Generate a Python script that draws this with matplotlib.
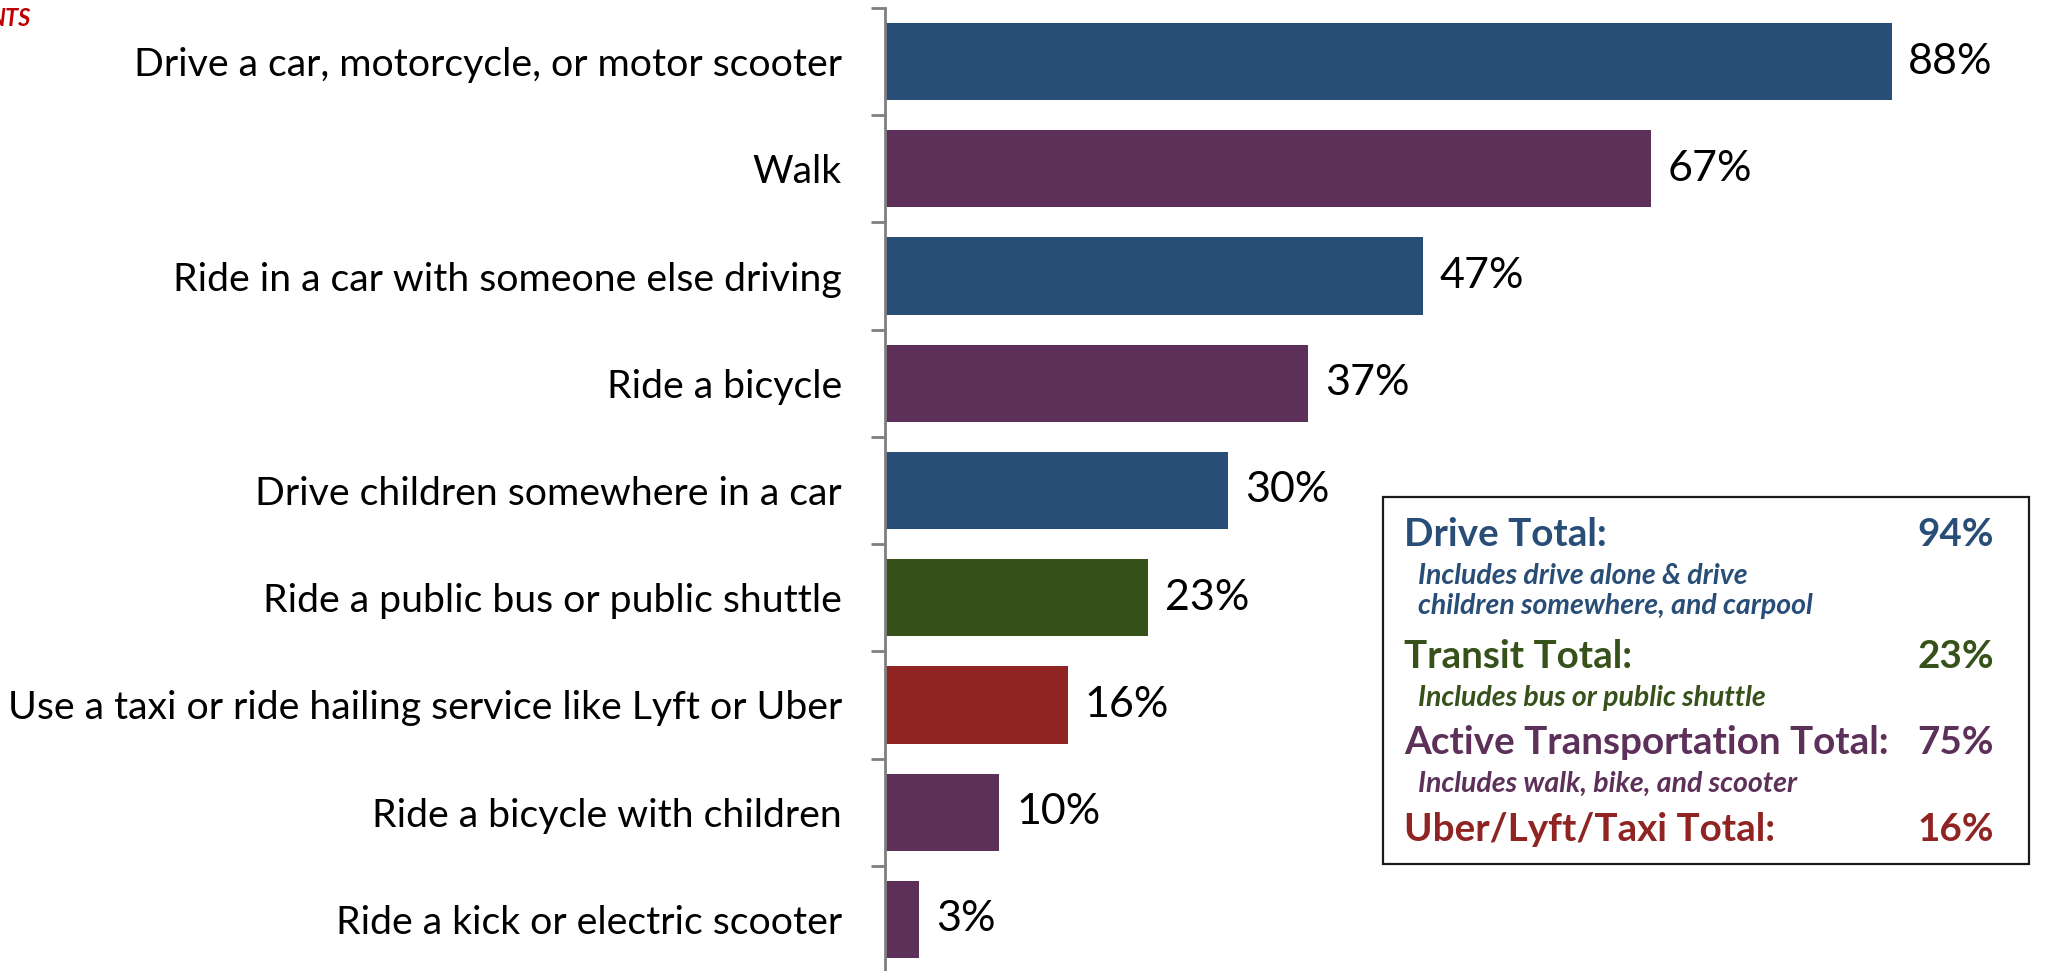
import matplotlib.pyplot as plt
from matplotlib.patches import Rectangle

# data
labels = ['Drive a car, motorcycle, or motor scooter',
          'Walk',
          'Ride in a car with someone else driving',
          'Ride a bicycle',
          'Drive children somewhere in a car',
          'Ride a public bus or public shuttle',
          'Use a taxi or ride hailing service like Lyft or Uber',
          'Ride a bicycle with children',
          'Ride a kick or electric scooter']
values = [88, 67, 47, 37, 30, 23, 16, 10, 3]
groups = ['drive', 'active', 'drive', 'active', 'drive', 'transit', 'taxi', 'active', 'active']

totals_names = ['Drive Total:', 'Transit Total:', 'Active Transportation Total:', 'Uber/Lyft/Taxi Total:']
totals_values = [94, 23, 75, 16]
totals_groups = ['drive', 'transit', 'active', 'taxi']
totals_notes = ['Includes drive alone & drive\nchildren somewhere, and carpool',
                'Includes bus or public shuttle',
                'Includes walk, bike, and scooter',
                '']

colors = {'drive': '#284E77', 'active': '#5C3059', 'transit': '#36511A', 'taxi': '#8F2423'}

plt.rcParams['font.family'] = ['Lato', 'DejaVu Sans']

W, H = 2046, 971
fig = plt.figure(figsize=(W/100, H/100), dpi=100)

def fx(px):
    return px / W

def fy(py):
    return 1 - py / H

# axes: left edge at x=885px, rows span y=8..973px
ax = fig.add_axes([fx(885), fy(973), 1 - fx(885), (973 - 8) / H])
ypos = list(range(len(labels)))
ax.barh(ypos, values, height=0.72, color=[colors[g] for g in groups])
ax.set_xlim(0, 101.5)
ax.set_ylim(len(labels) - 0.5, -0.5)

for y, v in zip(ypos, values):
    ax.annotate('%d%%' % v, (v, y), xytext=(12, 0), textcoords='offset points',
                va='center', ha='left', fontsize=31, color='black')

for s in ['top', 'right', 'bottom']:
    ax.spines[s].set_visible(False)
ax.spines['left'].set_color('#7F7F7F')
ax.spines['left'].set_linewidth(2)
ax.set_xticks([])
ax.set_yticks(ypos)
ax.set_yticklabels(labels, fontsize=28.3)
ax.tick_params(axis='y', which='major', length=0, pad=31)
ax.set_yticks([i - 0.5 for i in range(len(labels) + 1)], minor=True)
ax.tick_params(axis='y', which='minor', length=10, width=2, color='#7F7F7F')

# summary box
fig.patches.append(Rectangle((fx(1383), fy(864)), fx(2029) - fx(1383), fy(497) - fy(864),
                             transform=fig.transFigure, fill=False, edgecolor='#1A1A1A',
                             linewidth=1.6))
head_y = [535, 656, 742, 829]
note_y = [591, 698, 784, None]
for name, val, g, note, hy, ny in zip(totals_names, totals_values, totals_groups,
                                      totals_notes, head_y, note_y):
    c = colors[g]
    fig.text(fx(1404), fy(hy), name, fontsize=27.8, fontweight='bold', color=c,
             ha='left', va='center')
    fig.text(fx(1994), fy(hy), '%d%%' % val, fontsize=27.8, fontweight='bold', color=c,
             ha='right', va='center')
    if note:
        fig.text(fx(1418), fy(ny), note, fontsize=20.5, fontweight='bold', style='italic',
                 color=c, ha='left', va='center', linespacing=1.15)

# clipped heading fragment at top left
fig.text(fx(30), fy(19), 'NTS', fontsize=17, fontweight='bold', style='italic',
         color='#C00000', ha='right', va='center')

fig.savefig('out.png', dpi=100)
